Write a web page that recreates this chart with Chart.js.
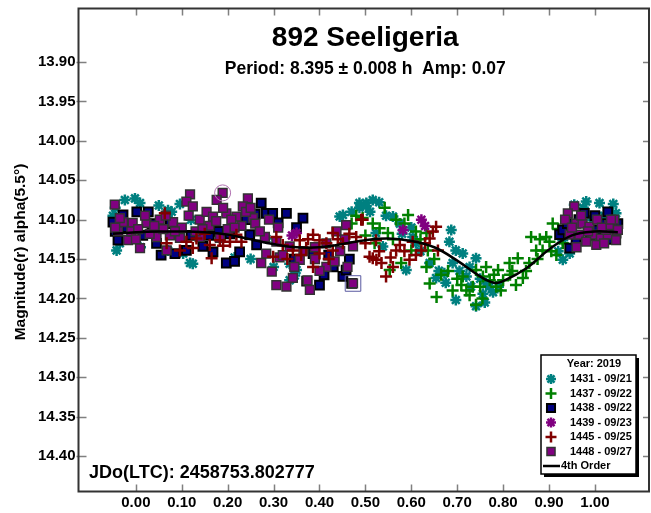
<!DOCTYPE html>
<html lang="en">
<head>
<meta charset="UTF-8">
<title>892 Seeligeria</title>
<script src="https://cdn.jsdelivr.net/npm/chart.js"></script>
<style>
  html, body { margin: 0; padding: 0; background: #fff; overflow: hidden; }
  canvas { display: block; }
</style>
</head>
<body>
<canvas id="lc" width="651" height="513"></canvas>
<script>
// axis ticks
const xTicks = [0.00, 0.10, 0.20, 0.30, 0.40, 0.50, 0.60, 0.70, 0.80, 0.90, 1.00];
const yTicks = [13.90, 13.95, 14.00, 14.05, 14.10, 14.15, 14.20, 14.25, 14.30, 14.35, 14.40];

// session labels
const sessions = ['1431 - 09/21', '1437 - 09/22', '1438 - 09/22', '1439 - 09/23', '1445 - 09/25', '1448 - 09/27'];

// [phase, magnitude] per session
const s1431 = [
  [-0.045, 14.085], [-0.024, 14.075], [-0.002, 14.073], [0.009, 14.079], [-0.042, 14.139], [-0.035, 14.130],
  [0.070, 14.088], [0.078, 14.090], [0.096, 14.080], [0.070, 14.139], [0.103, 14.143], [0.118, 14.155],
  [0.124, 14.156], [0.215, 14.148], [0.284, 14.124], [0.335, 14.156], [0.346, 14.171], [0.335, 14.177],
  [0.350, 14.164], [0.040, 14.110], [-0.050, 14.095], [0.010, 14.135], [0.050, 14.082], [0.120, 14.100],
  [0.250, 14.150], [0.300, 14.160],
  [0.444, 14.096], [0.451, 14.094], [0.487, 14.079], [0.487, 14.085], [0.502, 14.079], [0.502, 14.083],
  [0.516, 14.075], [0.523, 14.117], [0.538, 14.134], [0.560, 14.096], [0.575, 14.105], [0.603, 14.122],
  [0.589, 14.164], [0.654, 14.174], [0.672, 14.168], [0.683, 14.128], [0.687, 14.113], [0.697, 14.139],
  [0.697, 14.202], [0.712, 14.143], [0.720, 14.172], [0.727, 14.160], [0.741, 14.149], [0.741, 14.210],
  [0.756, 14.194], [0.763, 14.181], [0.778, 14.192], [0.770, 14.185], [0.470, 14.090], [0.510, 14.090],
  [0.530, 14.078], [0.545, 14.095], [0.610, 14.130], [0.620, 14.140], [0.640, 14.155], [0.660, 14.165],
  [0.675, 14.180], [0.690, 14.155], [0.705, 14.165], [0.730, 14.185], [0.750, 14.175], [0.760, 14.205],
  [0.790, 14.185], [0.600, 14.110], [0.580, 14.118],
  [0.930, 14.151], [0.945, 14.143], [0.930, 14.126], [0.966, 14.128], [0.981, 14.077], [1.010, 14.079],
  [1.031, 14.122], [1.046, 14.092], [0.955, 14.081], [0.995, 14.100], [1.020, 14.095], [0.950, 14.135],
  [0.975, 14.085], [1.040, 14.080], [0.920, 14.140]
];
const s1437 = [
  [0.470, 14.105], [0.480, 14.095], [0.494, 14.098], [0.516, 14.105], [0.531, 14.111], [0.542, 14.085],
  [0.549, 14.117], [0.553, 14.164], [0.567, 14.100], [0.578, 14.155], [0.593, 14.094], [0.600, 14.139],
  [0.633, 14.117], [0.633, 14.160], [0.636, 14.139], [0.640, 14.181], [0.655, 14.198], [0.709, 14.183],
  [0.712, 14.172], [0.727, 14.196], [0.734, 14.185], [0.741, 14.164], [0.741, 14.208], [0.756, 14.172],
  [0.763, 14.160], [0.771, 14.177], [0.789, 14.164], [0.800, 14.177], [0.814, 14.155], [0.828, 14.183],
  [0.832, 14.149], [0.843, 14.174], [0.857, 14.155], [0.861, 14.122], [0.872, 14.139], [0.886, 14.139],
  [0.894, 14.122], [0.901, 14.128], [0.908, 14.105], [0.916, 14.145], [0.930, 14.130], [0.690, 14.190],
  [0.700, 14.175], [0.785, 14.185], [0.815, 14.170], [0.500, 14.120], [0.520, 14.130], [0.560, 14.125],
  [0.585, 14.105], [0.610, 14.115], [0.620, 14.125], [0.650, 14.150], [0.665, 14.170], [0.680, 14.165],
  [0.720, 14.190], [0.750, 14.185], [0.780, 14.170], [0.795, 14.190], [0.820, 14.165], [0.850, 14.165],
  [0.875, 14.150], [0.880, 14.125], [0.905, 14.140], [0.920, 14.112], [0.755, 14.200]
];
const s1438 = [
  [-0.050, 14.103], [-0.039, 14.126], [-0.028, 14.094], [-0.045, 14.115], [0.002, 14.090], [0.027, 14.090],
  [0.015, 14.120], [0.055, 14.145], [0.085, 14.143], [0.110, 14.139], [0.146, 14.134], [0.168, 14.141],
  [0.180, 14.115], [0.197, 14.155], [0.215, 14.153], [0.226, 14.141], [0.248, 14.119], [0.263, 14.132],
  [0.273, 14.079], [0.284, 14.092], [0.298, 14.092], [0.328, 14.092], [0.364, 14.098], [0.386, 14.143],
  [0.372, 14.178], [0.400, 14.183], [0.451, 14.172], [0.458, 14.164], [0.420, 14.145], [0.470, 14.181],
  [-0.020, 14.110], [0.035, 14.105], [0.075, 14.105], [0.120, 14.120], [0.160, 14.120], [0.205, 14.118],
  [0.240, 14.100], [0.260, 14.093], [0.310, 14.104], [0.345, 14.150], [0.350, 14.110], [0.410, 14.170],
  [0.430, 14.160], [0.465, 14.150], [0.045, 14.130],
  [0.923, 14.119], [0.930, 14.113], [0.945, 14.136], [0.959, 14.126], [0.977, 14.092], [1.003, 14.113],
  [1.017, 14.105], [1.028, 14.090], [1.046, 14.117], [0.990, 14.120], [0.940, 14.105], [0.965, 14.100],
  [1.000, 14.095], [1.035, 14.125], [1.050, 14.105]
];
const s1439 = [[0.340, 14.120], [0.350, 14.117], [0.582, 14.113], [0.622, 14.100], [0.630, 14.108]];
const s1445 = [
  [0.063, 14.092], [0.067, 14.130], [0.096, 14.139], [0.124, 14.136], [0.132, 14.124], [0.161, 14.132],
  [0.165, 14.149], [0.183, 14.126], [0.205, 14.128], [0.219, 14.119], [0.299, 14.147], [0.306, 14.122],
  [0.320, 14.132], [0.342, 14.139], [0.357, 14.126], [0.371, 14.136], [0.386, 14.119], [0.386, 14.160],
  [0.400, 14.126], [0.400, 14.143], [0.429, 14.139], [0.429, 14.117], [0.451, 14.130], [0.480, 14.122],
  [0.491, 14.100], [0.494, 14.100], [0.509, 14.147], [0.516, 14.149], [0.523, 14.126], [0.524, 14.151],
  [0.535, 14.155], [0.545, 14.172], [0.567, 14.139], [0.575, 14.132], [0.596, 14.151], [0.603, 14.128],
  [0.622, 14.139], [0.640, 14.124], [0.647, 14.115], [0.654, 14.109], [0.658, 14.139], [0.110, 14.128],
  [0.150, 14.118], [0.190, 14.133], [0.230, 14.128], [0.330, 14.150], [0.360, 14.145], [0.375, 14.125],
  [0.415, 14.130], [0.440, 14.125], [0.465, 14.118], [0.500, 14.130], [0.530, 14.140], [0.555, 14.148],
  [0.585, 14.140], [0.610, 14.145], [0.630, 14.130], [0.420, 14.150], [0.560, 14.160]
];
const s1448 = [
  [-0.046, 14.081], [0.118, 14.068], [0.189, 14.066], [0.176, 14.075], [0.110, 14.077], [0.244, 14.073],
  [0.233, 14.083], [0.124, 14.083], [-0.028, 14.103], [-0.039, 14.115], [-0.017, 14.126], [0.009, 14.136],
  [-0.007, 14.104], [0.023, 14.104], [0.052, 14.100], [0.081, 14.103], [0.074, 14.120], [0.096, 14.123],
  [0.045, 14.122], [0.067, 14.139], [0.139, 14.100], [0.154, 14.090], [0.168, 14.096], [0.197, 14.092],
  [0.219, 14.096], [0.255, 14.098], [0.139, 14.122], [0.183, 14.123], [0.208, 14.100], [0.281, 14.122],
  [0.306, 14.128], [0.273, 14.155], [0.296, 14.166], [0.306, 14.183], [0.328, 14.185], [0.342, 14.174],
  [0.374, 14.177], [0.379, 14.189], [0.357, 14.151], [0.313, 14.148], [0.415, 14.130], [0.437, 14.115],
  [0.458, 14.107], [0.473, 14.134], [0.461, 14.160], [0.473, 14.181], [0.415, 14.160], [0.433, 14.153],
  [0.335, 14.134], [0.284, 14.143], [-0.010, 14.115], [0.030, 14.118], [0.060, 14.112], [0.100, 14.110],
  [0.130, 14.115], [0.160, 14.108], [0.200, 14.112], [0.230, 14.108], [0.000, 14.125], [-0.045, 14.110],
  [0.020, 14.095], [0.040, 14.108], [0.085, 14.115], [0.115, 14.095], [0.145, 14.112], [0.175, 14.102],
  [0.215, 14.110], [0.240, 14.090], [0.260, 14.105], [0.270, 14.115], [0.290, 14.100], [0.310, 14.110],
  [0.320, 14.145], [0.345, 14.160], [0.365, 14.140], [0.390, 14.150], [0.400, 14.165], [0.445, 14.140],
  [0.455, 14.125], [0.390, 14.135], [-0.035, 14.098], [0.005, 14.112], [0.065, 14.095], [0.190, 14.085],
  [0.250, 14.085],
  [0.955, 14.083], [0.941, 14.092], [0.959, 14.105], [0.973, 14.105], [0.988, 14.109], [0.995, 14.119],
  [1.013, 14.124], [1.028, 14.119], [1.046, 14.126], [1.042, 14.100], [1.024, 14.113], [0.945, 14.119],
  [0.966, 14.119], [1.003, 14.132], [0.981, 14.128], [1.031, 14.107], [0.935, 14.100], [0.950, 14.110],
  [0.970, 14.095], [0.985, 14.115], [1.005, 14.100], [1.015, 14.110], [1.035, 14.100], [1.050, 14.113],
  [0.960, 14.135], [1.020, 14.130]
];

// flagged observations
const ringCircle = [[0.189, 14.066]];
const ringBox = [[0.473, 14.181]];

// 4th order Fourier fit
const fitPhase = [-0.05, 0.00, 0.05, 0.10, 0.15, 0.20, 0.25, 0.30, 0.35, 0.40, 0.45, 0.50,
                  0.55, 0.60, 0.65, 0.70, 0.75, 0.78, 0.80, 0.85, 0.90, 0.95, 1.00, 1.05];
const fitMag = [14.118, 14.116, 14.115, 14.115, 14.116, 14.119, 14.125, 14.131, 14.135, 14.135, 14.131, 14.126,
                14.124, 14.127, 14.135, 14.152, 14.172, 14.180, 14.178, 14.162, 14.138, 14.120, 14.115, 14.116];

const FONT = 'Liberation Sans, Arial, sans-serif';
const pts = arr => arr.map(p => ({ x: p[0], y: p[1] }));

const styles = [
  { pointStyle: 'star', radius: 5.5, borderWidth: 2.5, bg: '#008080', border: '#008080' },
  { pointStyle: 'cross', radius: 6, borderWidth: 2.5, bg: '#008000', border: '#008000' },
  { pointStyle: 'rect', radius: 6.2, borderWidth: 2, bg: '#000080', border: '#000000' },
  { pointStyle: 'star', radius: 5.5, borderWidth: 2.5, bg: '#800080', border: '#800080' },
  { pointStyle: 'cross', radius: 6, borderWidth: 2.5, bg: '#800000', border: '#800000' },
  { pointStyle: 'rect', radius: 6.2, borderWidth: 1.5, bg: '#800080', border: '#333333' }
];
const series = [s1431, s1437, s1438, s1439, s1445, s1448];
const drawOrder = [6, 5, 4, 3, 1, 2];

const datasets = series.map((s, i) => ({
  label: sessions[i],
  data: pts(s),
  pointStyle: styles[i].pointStyle,
  pointRadius: styles[i].radius,
  pointBorderWidth: styles[i].borderWidth,
  pointBackgroundColor: styles[i].bg,
  pointBorderColor: styles[i].border,
  order: drawOrder[i]
}));

datasets.push({
  label: 'flag circle', data: pts(ringCircle), pointStyle: 'circle', pointRadius: 8,
  pointBorderWidth: 1, pointBorderColor: '#b070b0', pointBackgroundColor: 'rgba(0,0,0,0)', order: 0
});
datasets.push({
  label: 'flag box', data: pts(ringBox), pointStyle: 'rect', pointRadius: 11,
  pointBorderWidth: 1, pointBorderColor: '#5a5aa0', pointBackgroundColor: 'rgba(0,0,0,0)', order: 0
});
datasets.push({
  type: 'line',
  label: '4th Order',
  data: fitPhase.map((p, i) => ({ x: p, y: fitMag[i] })),
  borderColor: '#000',
  borderWidth: 2.5,
  pointRadius: 0,
  tension: 0.4,
  fill: false,
  order: 0
});

// frame, inward tick marks with their labels, titles and the session key
const decor = {
  id: 'decor',
  afterDraw(chart) {
    const { ctx, chartArea: a, scales } = chart;
    ctx.save();

    ctx.strokeStyle = '#808080';
    ctx.lineWidth = 1.5;
    ctx.beginPath();
    xTicks.forEach(v => {
      const px = Math.round(scales.x.getPixelForValue(v)) + 0.5;
      ctx.moveTo(px, a.bottom); ctx.lineTo(px, a.bottom - 7);
      ctx.moveTo(px, a.top); ctx.lineTo(px, a.top + 7);
    });
    yTicks.forEach(v => {
      const py = Math.round(scales.y.getPixelForValue(v)) + 0.5;
      ctx.moveTo(a.left - 2, py); ctx.lineTo(a.left + 8, py);
      ctx.moveTo(a.right, py); ctx.lineTo(a.right - 7, py);
    });
    ctx.stroke();

    ctx.strokeStyle = '#333';
    ctx.lineWidth = 2;
    ctx.strokeRect(a.left, a.top, a.right - a.left - 1, a.bottom - a.top);

    ctx.fillStyle = '#000';
    ctx.font = 'bold 15px ' + FONT;
    ctx.textBaseline = 'middle';
    ctx.textAlign = 'center';
    xTicks.forEach(v => ctx.fillText(v.toFixed(2), scales.x.getPixelForValue(v), a.bottom + 11));
    ctx.textAlign = 'right';
    yTicks.forEach(v => ctx.fillText(v.toFixed(2), a.left - 3, scales.y.getPixelForValue(v)));

    ctx.textAlign = 'center';
    ctx.textBaseline = 'alphabetic';
    const cx = (a.left + a.right) / 2 + 1;
    ctx.font = 'bold 28px ' + FONT;
    ctx.fillText('892 Seeligeria', cx, 46);
    ctx.font = 'bold 17.5px ' + FONT;
    ctx.fillText('Period: 8.395 \u00b1 0.008 h  Amp: 0.07', cx, 74);

    ctx.textAlign = 'left';
    ctx.font = 'bold 18px ' + FONT;
    ctx.fillText('JDo(LTC): 2458753.802777', 89, 478);

    ctx.save();
    ctx.translate(21, 252);
    ctx.rotate(-Math.PI / 2);
    ctx.textAlign = 'center';
    ctx.textBaseline = 'middle';
    ctx.font = 'bold 15.5px ' + FONT;
    ctx.fillText('Magnitude(r) alpha(5.5\u00b0)', 0, 0);
    ctx.restore();

    // session key
    const lg = { x: 541, y: 355, w: 95, h: 119 };
    ctx.fillStyle = '#000';
    ctx.fillRect(lg.x + 3, lg.y + 3, lg.w, lg.h);
    ctx.fillStyle = '#fff';
    ctx.fillRect(lg.x, lg.y, lg.w, lg.h);
    ctx.strokeStyle = '#000';
    ctx.lineWidth = 1.5;
    ctx.strokeRect(lg.x, lg.y, lg.w, lg.h);

    ctx.fillStyle = '#000';
    ctx.textBaseline = 'middle';
    ctx.textAlign = 'center';
    ctx.font = 'bold 11px ' + FONT;
    ctx.fillText('Year: 2019', lg.x + 53, lg.y + 9);
    ctx.textAlign = 'left';
    sessions.forEach((name, i) => {
      const y = lg.y + 24 + i * 14.5;
      const st = styles[i];
      ctx.fillStyle = st.bg;
      ctx.strokeStyle = st.border;
      ctx.lineWidth = st.borderWidth;
      Chart.helpers.drawPoint(ctx, { pointStyle: st.pointStyle, radius: st.radius - 0.5, rotation: 0, borderWidth: st.borderWidth }, lg.x + 10, y);
      ctx.fillStyle = '#000';
      ctx.fillText(name, lg.x + 29, y);
    });
    const ly = lg.y + 24 + 6 * 14.5;
    ctx.strokeStyle = '#000';
    ctx.lineWidth = 2.5;
    ctx.beginPath();
    ctx.moveTo(lg.x + 2, ly); ctx.lineTo(lg.x + 19, ly);
    ctx.stroke();
    ctx.fillText('4th Order', lg.x + 20, ly);

    ctx.restore();
  }
};

new Chart(document.getElementById('lc'), {
  type: 'scatter',
  data: { datasets },
  options: {
    responsive: false,
    animation: false,
    layout: { autoPadding: false, padding: { top: 8.5, right: 1, left: 0, bottom: 0 } },
    plugins: { legend: { display: false }, tooltip: { enabled: false } },
    scales: {
      x: {
        type: 'linear',
        min: -0.125,
        max: 1.12,
        grid: { display: false, drawTicks: false },
        border: { display: false },
        ticks: { display: false },
        afterFit(scale) { scale.height = 21.5; }
      },
      y: {
        type: 'linear',
        reverse: true,
        min: 13.832,
        max: 14.445,
        grid: { display: false, drawTicks: false },
        border: { display: false },
        ticks: { display: false },
        afterFit(scale) { scale.width = 78.5; }
      }
    }
  },
  plugins: [decor]
});
</script>
</body>
</html>
